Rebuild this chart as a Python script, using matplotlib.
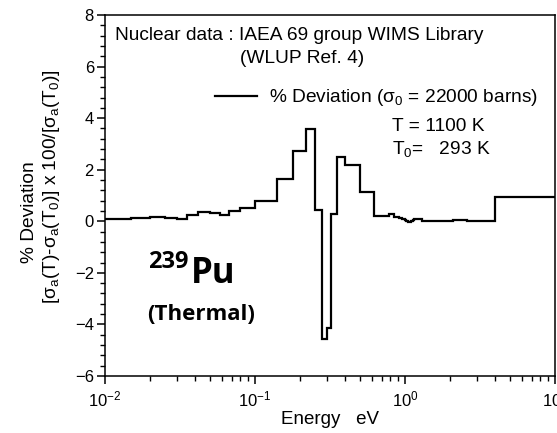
import numpy as np
import matplotlib
matplotlib.use("Agg")
import matplotlib.pyplot as plt
from matplotlib.ticker import LogLocator, MultipleLocator, NullFormatter
from matplotlib.lines import Line2D

plt.rcParams['font.family'] = ['Liberation Sans', 'DejaVu Sans']
plt.rcParams['mathtext.fontset'] = 'custom'
plt.rcParams['mathtext.rm'] = 'Liberation Sans'
plt.rcParams['mathtext.it'] = 'Liberation Sans'
plt.rcParams['mathtext.default'] = 'regular'

# WIMS 69-group energy boundaries (eV), thermal range shown
energy_edges = [0.010, 0.015, 0.020, 0.025, 0.030, 0.035, 0.042, 0.050, 0.058,
                0.067, 0.080, 0.100, 0.140, 0.180, 0.220, 0.250, 0.280, 0.300,
                0.320, 0.350, 0.400, 0.500, 0.625, 0.780, 0.850, 0.910, 0.950,
                0.972, 0.996, 1.020, 1.045, 1.071, 1.097, 1.123, 1.150, 1.300,
                1.500, 2.100, 2.600, 3.300, 4.000, 9.877, 10.0]
# % deviation per group
deviation = [0.10, 0.12, 0.16, 0.12, 0.10, 0.23, 0.36, 0.32, 0.25, 0.38,
             0.51, 0.77, 1.65, 2.74, 3.58, 0.45, -4.55, -4.12, 0.30, 2.49,
             2.17, 1.12, 0.19, 0.28, 0.17, 0.12, 0.09, 0.07, 0.05, 0.02,
             -0.01, -0.02, 0.00, 0.05, 0.07, 0.02, 0.03, 0.06, 0.03, 0.03,
             0.96, 0.96]

W, H = 557, 433
fig = plt.figure(figsize=(W / 100, H / 100), dpi=100)
ax = fig.add_axes([105 / W, 1 - 376 / H, (555 - 105) / W, (376 - 15) / H])

ax.stairs(deviation, energy_edges, baseline=None, color='black', lw=1.6)

ax.set_xscale('log')
ax.set_xlim(0.01, 10)
ax.set_ylim(-6, 8)
ax.yaxis.set_major_locator(MultipleLocator(2))
ax.yaxis.set_minor_locator(MultipleLocator(0.4))
ax.xaxis.set_major_locator(LogLocator(base=10))
ax.xaxis.set_minor_locator(LogLocator(base=10, subs=np.arange(2, 10)))
ax.xaxis.set_minor_formatter(NullFormatter())
ax.tick_params(which='major', direction='out', length=6, width=1.1, labelsize=12, pad=2)
ax.tick_params(which='minor', direction='out', length=3.5, width=1.0)
ax.tick_params(axis='x', which='major', pad=4)
for s in ax.spines.values():
    s.set_linewidth(1.1)

ax.set_xlabel('Energy   eV', fontsize=13.5, labelpad=1)

def fx(x):
    return x / W

def fy(y):
    return 1 - y / H

fs = 13.8
fig.text(fx(30), fy(212), '% Deviation', rotation=90, ha='center', va='center', fontsize=fs)
fig.text(fx(52), fy(187), '[σ$_a$(T)-σ$_a$(T$_0$)] x 100/[σ$_a$(T$_0$)]', rotation=90,
         ha='center', va='center', fontsize=fs)

fig.text(fx(115), fy(40), 'Nuclear data : IAEA 69 group WIMS Library', ha='left', va='baseline', fontsize=fs)
fig.text(fx(240), fy(63), '(WLUP Ref. 4)', ha='left', va='baseline', fontsize=fs)
fig.text(fx(392), fy(131), 'T = 1100 K', ha='left', va='baseline', fontsize=fs)
fig.text(fx(392), fy(154), 'T$_0$=   293 K', ha='left', va='baseline', fontsize=fs)

leg = ax.legend(handles=[Line2D([], [], color='black', lw=1.6)],
                labels=['% Deviation (σ$_0$ = 22000 barns)'],
                loc='center left', bbox_to_anchor=(fx(215), fy(98)),
                bbox_transform=fig.transFigure, frameon=False, fontsize=fs,
                borderpad=0, borderaxespad=0, handlelength=2.2, handletextpad=0.6)

bold = ['Open Sans', 'DejaVu Sans']
fig.text(fx(148), fy(268), '239', ha='left', va='baseline', fontsize=17,
         fontweight='bold', family=bold)
fig.text(fx(191), fy(283), 'Pu', ha='left', va='baseline', fontsize=25,
         fontweight='bold', family=bold)
fig.text(fx(147), fy(320), '(Thermal)', ha='left', va='baseline', fontsize=16,
         fontweight='bold', family=bold)

fig.savefig('out.png', dpi=100)
